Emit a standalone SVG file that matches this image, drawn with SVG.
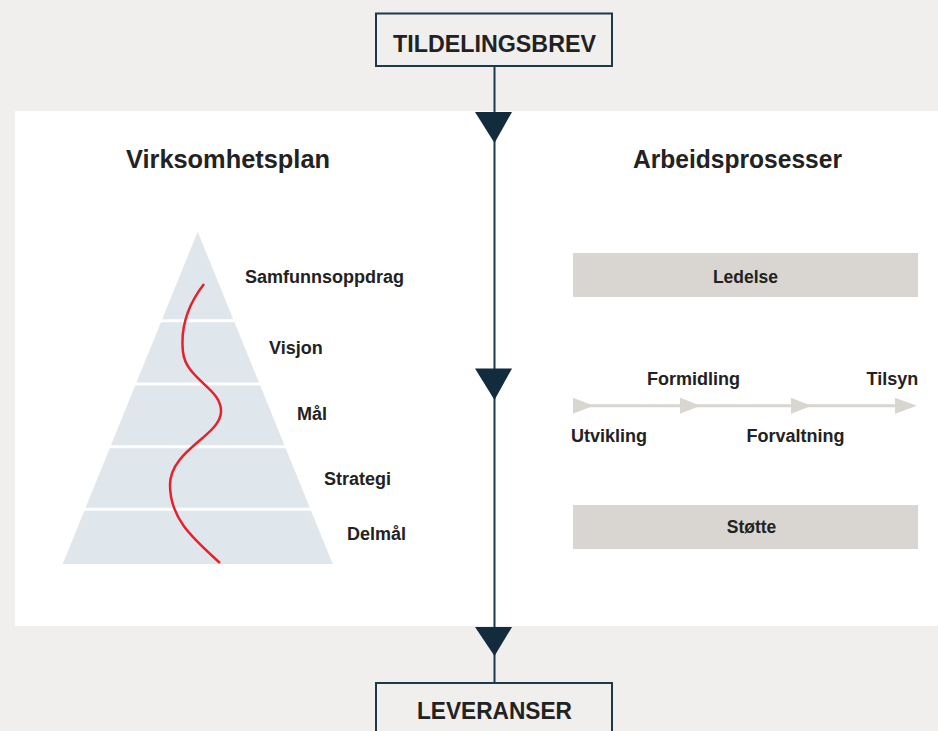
<svg xmlns="http://www.w3.org/2000/svg" width="938" height="731" viewBox="0 0 938 731">
  <style>
    .t { font-family: "Liberation Sans", Arial, sans-serif; font-weight: bold; fill: #222222; }
    .box { fill: #f0efed; stroke: #1b3a4b; stroke-width: 2; }
    .bar { fill: #d9d6d2; }
    .head { font-size: 25px; }
    .lbl { font-size: 18px; }
    .blbl { font-size: 17.5px; }
    .big { font-size: 23px; }
    .sep { stroke: #ffffff; stroke-width: 3; }
    .flow { stroke: #d9d6d2; stroke-width: 3; fill: none; }
    .flowhead { fill: #d9d6d2; }
    .main { stroke: #1b3a4b; stroke-width: 2; fill: none; }
    .arr { fill: #122b3d; }
  </style>
  <rect x="0" y="0" width="938" height="731" fill="#f0efed"/>
  <rect id="panel" x="15" y="111" width="923" height="515" fill="#ffffff"/>

  <g id="connectors">
    <line class="main" x1="494.5" y1="66" x2="494.5" y2="683"/>
    <polygon class="arr" points="475,112 512,112 494.5,143"/>
    <polygon class="arr" points="475,368.5 512,368.5 494.5,400"/>
    <polygon class="arr" points="475,627 512,627 494.5,656"/>
  </g>

  <g id="tildelingsbrev">
    <rect class="box" x="376" y="13.5" width="236" height="52.5"/>
    <text class="t big" x="494.5" y="52" text-anchor="middle" textLength="203" lengthAdjust="spacingAndGlyphs">TILDELINGSBREV</text>
  </g>

  <g id="leveranser">
    <rect class="box" x="376" y="683" width="236" height="60"/>
    <text class="t big" x="494.5" y="719" text-anchor="middle" textLength="155" lengthAdjust="spacingAndGlyphs">LEVERANSER</text>
  </g>

  <g id="virksomhetsplan">
    <text class="t head" x="126" y="168" textLength="204" lengthAdjust="spacingAndGlyphs">Virksomhetsplan</text>
    <polygon points="197.7,231.7 332.7,564 62.7,564" fill="#dfe6ec"/>
    <line class="sep" x1="150" y1="320.7" x2="250" y2="320.7"/>
    <line class="sep" x1="120" y1="384" x2="280" y2="384"/>
    <line class="sep" x1="100" y1="446.7" x2="300" y2="446.7"/>
    <line class="sep" x1="80" y1="509.3" x2="320" y2="509.3"/>
    <path d="M204,284 C190,302 180,325 183,352 C186,380 222,388 221,412 C220,436 170,450 170,485 C170,520 195,540 220,563" fill="none" stroke="#e8202a" stroke-width="2.5"/>
    <text class="t lbl" x="245" y="283.3">Samfunnsoppdrag</text>
    <text class="t lbl" x="269" y="354">Visjon</text>
    <text class="t lbl" x="297" y="420">Mål</text>
    <text class="t lbl" x="324" y="485">Strategi</text>
    <text class="t lbl" x="347" y="540">Delmål</text>
  </g>

  <g id="arbeidsprosesser">
    <text class="t head" x="633" y="168" textLength="209" lengthAdjust="spacingAndGlyphs">Arbeidsprosesser</text>
  </g>

  <g id="ledelse">
    <rect class="bar" x="573" y="253" width="345" height="44"/>
    <text class="t blbl" x="745.5" y="283.3" text-anchor="middle">Ledelse</text>
  </g>

  <g id="prosesskjede">
    <line class="flow" x1="573" y1="405.7" x2="905" y2="405.7"/>
    <polygon class="flowhead" points="573,397.7 593.5,405.7 573,413.7"/>
    <polygon class="flowhead" points="680,397.7 700.5,405.7 680,413.7"/>
    <polygon class="flowhead" points="791,397.7 811.5,405.7 791,413.7"/>
    <polygon class="flowhead" points="895,397.7 917,405.7 895,413.7"/>
    <text class="t lbl" x="647" y="385">Formidling</text>
    <text class="t lbl" x="866.5" y="385">Tilsyn</text>
    <text class="t lbl" x="571" y="441.7">Utvikling</text>
    <text class="t lbl" x="746.5" y="441.7">Forvaltning</text>
  </g>

  <g id="stotte">
    <rect class="bar" x="573" y="505" width="345" height="44"/>
    <text class="t blbl" x="751.5" y="532.7" text-anchor="middle">Støtte</text>
  </g>
</svg>
